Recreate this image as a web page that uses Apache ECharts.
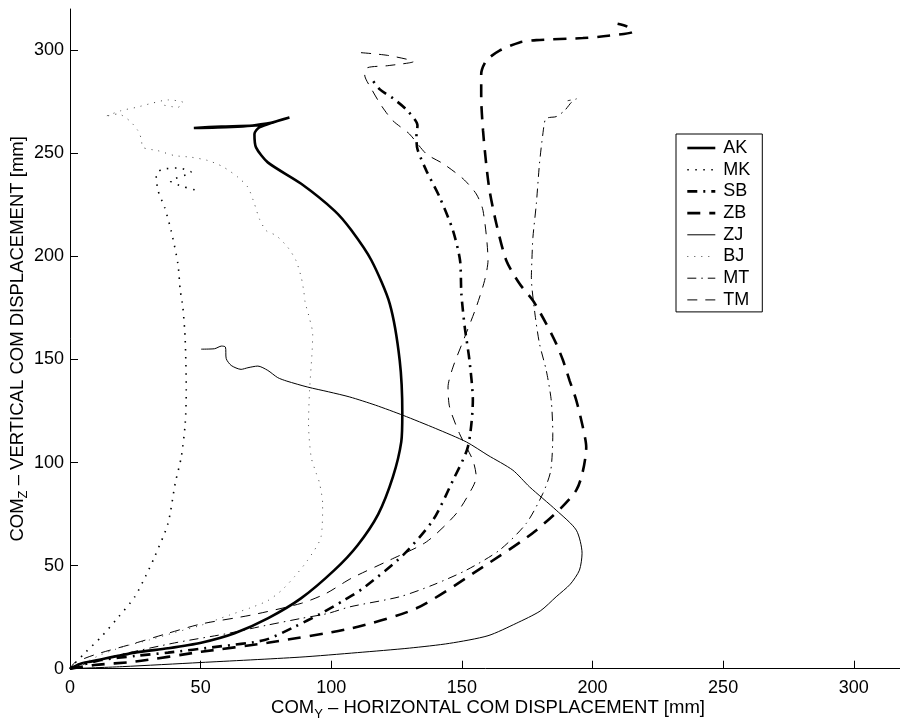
<!DOCTYPE html>
<html>
<head>
<meta charset="utf-8">
<script src="https://cdn.jsdelivr.net/npm/echarts@6/dist/echarts.min.js"></script>
<style>
  html, body { margin: 0; padding: 0; background: #fff; }
  #chart { width: 900px; height: 726px; }
</style>
</head>
<body>
<div id="chart"></div>
<script>
// Centre-of-mass trajectories: [horizontal COM_Y (mm), vertical COM_Z (mm)]
const AK = [[0,0],[3.8,2.3],[10.7,4.2],[24.8,7.8],[37.5,9.9],[50.2,12.6],[63,17.2],[75.7,24.4],[88.4,34.1],[101.2,47.8],[110.1,59.9],[118,75],[123.6,93],[126.8,110],[127.2,124],[126.2,149.6],[122.4,177],[115.4,198],[107.5,213],[101.2,222.2],[88.5,235.2],[75.7,245.6],[71.2,252.9],[70.6,259.4],[72.5,262.6],[84,267.4],[74,264],[62,262.8],[47.4,262.3],[58,263],[70,263.5],[78,265]];
const MK = [[0,0],[1.8,2.6],[6,8],[12,15.5],[18.5,25],[24.8,34.9],[29,45],[32.4,54.3],[37.5,70.4],[40.3,90.1],[42.6,102.7],[44.1,118.9],[44.5,135],[44.1,159.3],[43.2,175.4],[42.2,183.5],[41.3,196.4],[38.7,212.5],[36.2,223.8],[33.7,231.9],[33,239.2],[34.9,242],[41.3,242.9],[46.4,240.8],[38.5,236.5],[43,234],[48.9,231.9]];
const SB = [[0,0],[5,2],[12,4.2],[25,6.2],[37.5,7.8],[56.6,10.7],[74.5,13.9],[85.9,20.3],[96.1,26.8],[105,33.3],[112.2,39],[127.5,55.1],[138.9,72],[146.6,91.4],[152.3,107.6],[154.2,130.2],[152.9,149.6],[151.1,165.7],[149.8,181.9],[149.3,198],[146.6,212.5],[141.5,228.7],[136.4,241.6],[133,252],[132.6,258],[133,263.5],[128.9,271],[123.8,276.5],[118.6,281],[115.5,286]];
const ZB = [[0,0],[9.4,1.8],[24.7,3.4],[50.2,8.2],[75.7,12.6],[107.6,19.6],[132.6,29.3],[158.1,49.4],[178.5,67.2],[193.8,86.6],[197.6,107.6],[196.3,117.2],[193.8,130.2],[191.2,139.9],[188.7,149.6],[186.1,157.7],[182.3,167.3],[177.2,178.6],[172.1,186.7],[167,198],[163.2,215.8],[160.6,231.9],[159.3,244.9],[158.1,261],[157.4,277.1],[157.4,288.4],[159.3,294.9],[164.4,299.8],[172.1,303.8],[178.5,304.9],[196.3,305.9],[206,307],[215.5,309],[213.4,311.4],[209.6,312.8]];
const ZJ = [[0,0],[20,1],[50,3],[88,5.6],[110,7.8],[130,10],[145.3,12.3],[160,16],[170.8,22],[180,28],[186.1,34.9],[191.5,41],[195,47.8],[196,56],[193.8,67.2],[186.1,76.9],[175.9,88.2],[169.5,96.3],[160,103.5],[151.7,110],[140,116.5],[127.5,122.9],[117,127.8],[107.1,131.8],[99,134.3],[91,136.6],[83,139.5],[79.5,141.2],[75.7,144.7],[71.9,146.8],[68.1,146],[65.5,145.2],[61.7,147.1],[59.8,150.4],[59.5,156],[58,156.5],[55.3,155.2],[50.2,155]];
const BJ = [[0,0],[5,2.5],[11.5,6.6],[20,10.5],[30.6,14],[40,17.5],[50,21],[61,26],[69,29.5],[75.7,33],[81,38],[85.9,44.6],[91,52.7],[96.1,64],[96.7,80.1],[95.5,90.1],[94.2,95],[92.3,102.7],[91.3,118.9],[91.7,135],[92.7,154.4],[92.9,162.5],[91.7,169.8],[90,177.8],[89.5,183],[88.5,189.9],[86.5,198],[83.3,204.5],[78.9,210.1],[75.1,212.5],[72.5,218.2],[70.6,225.5],[68.1,233.5],[64.3,238.4],[58.5,243.5],[52.8,246.5],[46.4,248.1],[40,248.9],[33.6,251.3],[27.9,252.9],[27.3,257],[26,261],[22.8,265.8],[18.4,269.1],[13.3,267.8],[19.6,270.7],[25.4,272.3],[31.1,274.2],[37.5,275.9],[43.2,274.7],[41.3,272.3],[34.9,273.6]];
const MT = [[0,0],[5,2],[20,7],[40,12.5],[60,17],[75,21],[88.5,24.4],[98.7,26.8],[107.1,30],[126.2,34.9],[138.9,40.6],[151.7,47.8],[164.4,57.5],[174.6,70.4],[181,85],[184,96],[184.8,114],[184.2,130.2],[182.3,144.7],[179.7,157.7],[177.8,173.8],[176.6,189.9],[176.8,198],[177.2,209.3],[178.5,225.5],[179.7,244.9],[181,259.4],[182,266.7],[183.6,267.4],[186.1,267.8],[189.3,270.7],[191.9,274.7],[193.8,276.4],[190.5,275.5]];
const TM = [[0,0],[1.8,2.9],[10,7],[24.7,12.3],[37,17],[50.2,21.7],[69.3,26],[88.5,31.7],[98,36.5],[107.6,43.8],[122.4,52.7],[136.4,61.5],[147.9,75.3],[154.2,88.2],[155.5,93],[154.2,101.1],[149.1,114],[145.3,126.9],[144.7,136.6],[146.6,146.3],[151.1,160.9],[155.5,175.4],[158.7,188.3],[160,198],[158.1,222.2],[155.5,230.3],[150.5,237.6],[142.9,244.9],[136.4,249.7],[129.9,259.4],[123.6,265.8],[119.2,273.1],[115.4,281.2],[112.8,288],[113.8,291.5],[121.6,292.5],[131.5,294.5],[121.6,297.5],[109.6,299]];

const subjects = ['AK', 'MK', 'SB', 'ZB', 'ZJ', 'BJ', 'MT', 'TM'];
const tracks = { AK, MK, SB, ZB, ZJ, BJ, MT, TM };
const tickValues = [0, 50, 100, 150, 200, 250, 300];

// line appearance per subject
const looks = {
  AK: { width: 2.6, type: 'solid', color: '#000' },
  MK: { width: 1.6, type: [1.5, 6.5], color: '#000' },
  SB: { width: 2.6, type: [10, 6, 2, 6], color: '#000' },
  ZB: { width: 2.6, type: [13, 9], color: '#000' },
  ZJ: { width: 1, type: 'solid', color: '#000' },
  BJ: { width: 1, type: [1, 6], color: '#444' },
  MT: { width: 1, type: [9, 5, 1.5, 5], color: '#000' },
  TM: { width: 1, type: [10, 8], color: '#000' }
};

const FONT = '"Liberation Sans", Arial, Helvetica, sans-serif';
const rich = {
  m: { fontSize: 18.5, fontFamily: FONT, color: '#000', verticalAlign: 'top', lineHeight: 18 },
  s: { fontSize: 13, fontFamily: FONT, color: '#000', verticalAlign: 'top', lineHeight: 13, padding: [9, 0, 0, 0] }
};

const chart = echarts.init(document.getElementById('chart'), null, { renderer: 'canvas' });

function axisCommon() {
  return {
    type: 'value',
    min: 0,
    max: 320,
    interval: 50,
    nameLocation: 'middle',
    nameMoveOverlap: false,
    axisLine: { show: true, onZero: false, lineStyle: { color: '#000', width: 1 } },
    axisTick: { show: true, inside: true, length: 8, customValues: tickValues, lineStyle: { color: '#000', width: 1 } },
    axisLabel: { customValues: tickValues, fontSize: 18, fontFamily: FONT, color: '#000' },
    splitLine: { show: false }
  };
}

const xAxis = Object.assign(axisCommon(), {
  name: '{m|COM}{s|Y}{m| – HORIZONTAL COM DISPLACEMENT [mm]}',
  nameGap: 30,
  nameTextStyle: { rich }
});
xAxis.axisLabel.margin = 10;

const yAxis = Object.assign(axisCommon(), {
  name: '{m|COM}{s|Z}{m| – VERTICAL COM DISPLACEMENT [mm]}',
  nameGap: 44,
  nameRotate: 90,
  nameTextStyle: { rich }
});
yAxis.axisLabel.margin = 6;

chart.setOption({
  animation: false,
  backgroundColor: '#fff',
  textStyle: { fontFamily: FONT },
  grid: { left: 70, top: 9, bottom: 57.3, width: 836, containLabel: false, outerBoundsMode: 'none' },
  xAxis,
  yAxis,
  legend: {
    data: subjects,
    orient: 'vertical',
    left: 676,
    top: 134,
    padding: [5, 12, 3, 10],
    itemWidth: 28,
    itemHeight: 14,
    itemGap: 3.7,
    borderColor: '#000',
    borderWidth: 1,
    backgroundColor: '#fff',
    itemStyle: { color: 'rgba(0,0,0,0)', borderWidth: 0, opacity: 0 },
    lineStyle: { width: 'inherit', type: 'inherit' },
    textStyle: { fontSize: 18, fontFamily: FONT, color: '#000', lineHeight: 18, padding: [0, 0, 0, 3] }
  },
  series: subjects.map(name => ({
    name,
    type: 'line',
    data: tracks[name],
    symbol: 'none',
    smooth: 0.25,
    clip: false,
    lineStyle: looks[name],
    itemStyle: { color: looks[name].color },
    emphasis: { disabled: true }
  }))
});
</script>
</body>
</html>
